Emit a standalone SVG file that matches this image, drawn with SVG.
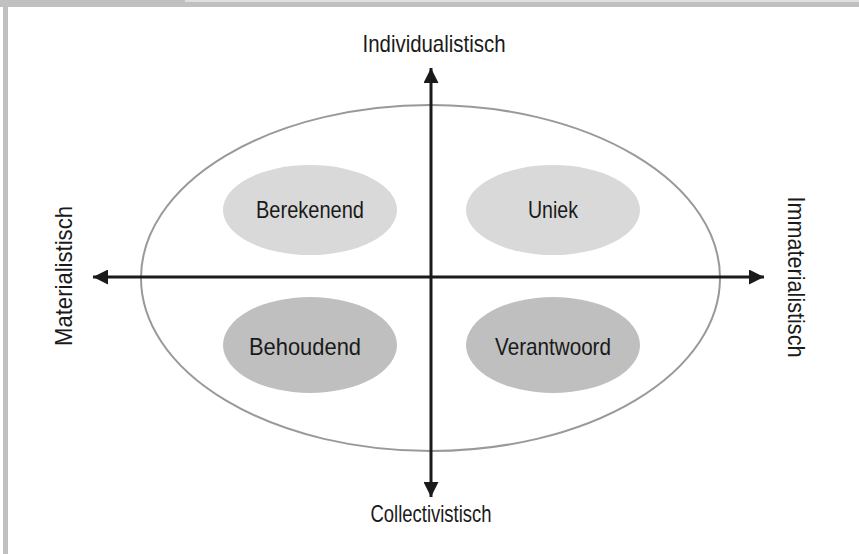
<svg xmlns="http://www.w3.org/2000/svg" width="859" height="554" viewBox="0 0 859 554">
<style>
.lbl{font-family:"Liberation Sans Narrow","Liberation Sans",Arial,sans-serif;font-size:24px;fill:#1a1a1a;text-anchor:middle}
.axis{stroke:#1a1a1a;stroke-width:3;fill:none}
.light{fill:#d9d9d9}
.dark{fill:#bfbfbf}
</style>
<defs>
<marker id="ah" viewBox="0 0 10 10" refX="10" refY="5" markerWidth="5" markerHeight="5" markerUnits="strokeWidth" orient="auto">
<path d="M0,0 L10,5 L0,10 z" fill="#1a1a1a"/>
</marker>
</defs>
<rect x="0" y="0" width="859" height="554" fill="#ffffff"/>
<g id="frame">
<rect x="0" y="0" width="859" height="7" fill="#c0c0c0"/>
<rect x="185" y="0" width="674" height="2" fill="#e0e0e0"/>
<rect x="3" y="0" width="5" height="554" fill="#c0c0c0"/>
</g>
<g id="outer">
<ellipse cx="430.5" cy="278" rx="289.5" ry="173" fill="none" stroke="#999999" stroke-width="2"/>
</g>
<g id="berekenend">
<ellipse class="light" cx="310" cy="210" rx="87" ry="45"/>
<text class="lbl" x="310" y="218" textLength="108" lengthAdjust="spacingAndGlyphs">Berekenend</text>
</g>
<g id="uniek">
<ellipse class="light" cx="553" cy="210" rx="87" ry="45"/>
<text class="lbl" x="553" y="218" textLength="50" lengthAdjust="spacingAndGlyphs">Uniek</text>
</g>
<g id="behoudend">
<ellipse class="dark" cx="310" cy="345" rx="87" ry="48"/>
<text class="lbl" x="305" y="355" textLength="112" lengthAdjust="spacingAndGlyphs">Behoudend</text>
</g>
<g id="verantwoord">
<ellipse class="dark" cx="553" cy="345" rx="87" ry="48"/>
<text class="lbl" x="553" y="355" textLength="116" lengthAdjust="spacingAndGlyphs">Verantwoord</text>
</g>
<g id="connectors">
<line class="axis" x1="431" y1="277" x2="431" y2="68" marker-end="url(#ah)"/>
<line class="axis" x1="431" y1="277" x2="431" y2="497" marker-end="url(#ah)"/>
<line class="axis" x1="431" y1="277" x2="93" y2="277" marker-end="url(#ah)"/>
<line class="axis" x1="431" y1="277" x2="764" y2="277" marker-end="url(#ah)"/>
</g>
<g id="labels">
<text class="lbl" x="434" y="52" textLength="143" lengthAdjust="spacingAndGlyphs">Individualistisch</text>
<text class="lbl" x="431" y="522" textLength="121" lengthAdjust="spacingAndGlyphs">Collectivistisch</text>
<text class="lbl" transform="translate(72,276) rotate(-90)" textLength="140" lengthAdjust="spacingAndGlyphs">Materialistisch</text>
<text class="lbl" transform="translate(788,277) rotate(90)" textLength="161" lengthAdjust="spacingAndGlyphs">Immaterialistisch</text>
</g>
</svg>
